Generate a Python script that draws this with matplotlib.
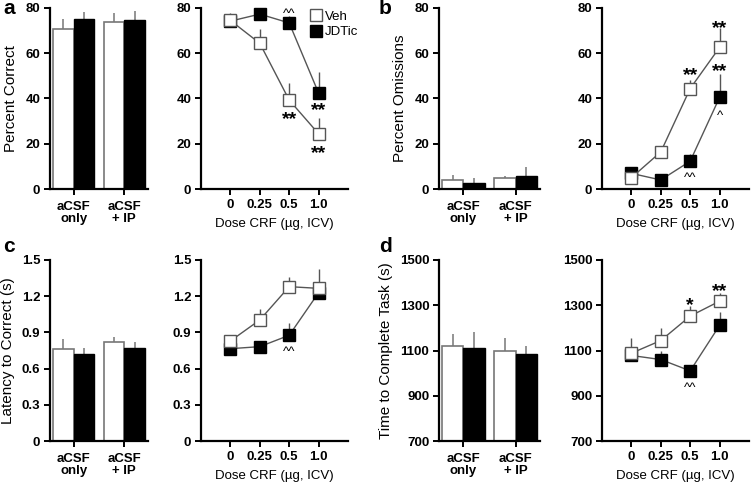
import numpy as np
import matplotlib.pyplot as plt
from matplotlib.lines import Line2D

plt.rcParams['font.family'] = ['Liberation Sans', 'DejaVu Sans']

# ---- data ----
bar_groups = ['aCSF\nonly', 'aCSF\n+ IP']
doses = ['0', '0.25', '0.5', '1.0']

# a: percent correct
correct_bar_veh = [70.7, 73.8]
correct_bar_veh_err = [4.4, 4.2]
correct_bar_jdtic = [75.2, 74.8]
correct_bar_jdtic_err = [3.0, 3.7]
correct_veh = [74.5, 64.4, 39.3, 24.4]
correct_veh_err = [3.2, 6.3, 7.5, 6.9]
correct_jdtic = [74.2, 77.3, 73.4, 42.4]
correct_jdtic_err = [3.0, 3.2, 3.0, 9.1]
correct_marks = [(2, 79.0, '^^'), (2, 33.5, '**'), (3, 37.5, '**'), (3, 18.7, '**')]

# b: percent omissions
omit_bar_veh = [3.8, 5.0]
omit_bar_veh_err = [2.4, 0.8]
omit_bar_jdtic = [2.8, 5.9]
omit_bar_jdtic_err = [1.9, 3.7]
omit_veh = [5.0, 16.4, 44.4, 62.6]
omit_veh_err = [1.5, 2.3, 3.9, 8.6]
omit_jdtic = [6.9, 4.0, 12.3, 40.5]
omit_jdtic_err = [1.8, 1.0, 3.2, 10.4]
omit_marks = [(2, 53, '**'), (3, 73.7, '**'), (3, 55, '**'), (3, 33.8, '^'), (2, 6.6, '^^')]

# c: latency to correct
lat_bar_veh = [0.765, 0.820]
lat_bar_veh_err = [0.078, 0.039]
lat_bar_jdtic = [0.721, 0.771]
lat_bar_jdtic_err = [0.047, 0.047]
lat_veh = [0.829, 1.003, 1.279, 1.265]
lat_veh_err = [0.049, 0.091, 0.083, 0.158]
lat_jdtic = [0.765, 0.782, 0.876, 1.229]
lat_jdtic_err = [0.03, 0.03, 0.099, 0.03]
lat_marks = [(2, 0.768, '^^')]

# d: time to complete task
time_bar_veh = [1120, 1096]
time_bar_veh_err = [54, 61]
time_bar_jdtic = [1111, 1084]
time_bar_jdtic_err = [70, 36]
time_veh = [1088, 1144, 1252, 1318]
time_veh_err = [68, 57, 44, 37]
time_jdtic = [1078, 1060, 1010, 1211]
time_jdtic_err = [20, 40, 20, 59]
time_marks = [(2, 1330, '*'), (3, 1389, '**'), (2, 950, '^^')]

GRAY = '#555555'
W, H = 752, 483
TICK_FS = 9.5


def style_axis(ax, yticks, ylim, xpad=3):
    for s in ['top', 'right']:
        ax.spines[s].set_visible(False)
    for s in ['left', 'bottom']:
        ax.spines[s].set_linewidth(1.6)
    ax.set_ylim(*ylim)
    ax.set_yticks(yticks)
    ax.tick_params(width=1.4, length=4, labelsize=TICK_FS, pad=3)
    ax.tick_params(axis='x', pad=xpad)
    for lab in ax.get_xticklabels() + ax.get_yticklabels():
        lab.set_fontweight('bold')


def bar_panel(ax, veh, veh_err, jd, jd_err, yticks, ylim, ylabel, fmt):
    x = np.arange(len(bar_groups))
    w = 0.41
    base = ylim[0]
    ax.bar(x - w / 2, np.array(veh) - base, w, bottom=base, color='white',
           edgecolor='#777777', linewidth=1.2, zorder=2)
    ax.bar(x + w / 2, np.array(jd) - base, w, bottom=base, color='black',
           edgecolor='black', linewidth=1.0, zorder=2)
    ax.errorbar(x - w / 2, veh, yerr=[np.zeros(len(veh)), veh_err], fmt='none',
                ecolor='#777777', elinewidth=1.1, capsize=0, zorder=1)
    ax.errorbar(x + w / 2, jd, yerr=[np.zeros(len(jd)), jd_err], fmt='none',
                ecolor='#777777', elinewidth=1.1, capsize=0, zorder=1)
    ax.set_xlim(-0.47, 1.47)
    ax.set_xticks(x)
    ax.set_xticklabels(bar_groups, linespacing=0.95)
    ax.set_yticklabels([fmt(v) for v in yticks])
    ax.set_ylabel(ylabel, fontsize=11, labelpad=5)
    style_axis(ax, yticks, ylim, xpad=5)


def mark_text(ax, xi, yi, txt):
    # place the glyphs so that their visual middle sits at yi
    if '*' in txt:
        fs, up = 14, 0.58
        weight = 'bold'
    else:
        fs, up = 9.5, 0.52
        weight = 'normal'
    ax.annotate(txt, (xi, yi), xytext=(0, -up * fs), textcoords='offset points',
                ha='center', va='baseline', fontsize=fs, fontweight=weight,
                zorder=5, annotation_clip=False)


def line_panel(ax, veh, veh_err, jd, jd_err, marks, yticks, ylim, fmt):
    x = np.arange(len(doses))
    ax.errorbar(x, jd, yerr=[np.zeros(len(jd)), jd_err], fmt='none',
                ecolor=GRAY, elinewidth=1.0, capsize=0, zorder=1)
    ax.plot(x, jd, color=GRAY, lw=1.0, marker='s', ms=8, mfc='black',
            mec='black', zorder=2, clip_on=False)
    ax.errorbar(x, veh, yerr=[np.zeros(len(veh)), veh_err], fmt='none',
                ecolor=GRAY, elinewidth=1.0, capsize=0, zorder=3)
    ax.plot(x, veh, color=GRAY, lw=1.0, marker='s', ms=8, mfc='white',
            mec=GRAY, mew=1.0, zorder=4, clip_on=False)
    for xi, yi, txt in marks:
        mark_text(ax, xi, yi, txt)
    ax.set_xlim(-1, 4)
    ax.set_xticks(x)
    ax.set_xticklabels(doses)
    ax.set_yticklabels([fmt(v) for v in yticks])
    ax.set_xlabel('Dose CRF (\u00b5g, ICV)', fontsize=9.5, labelpad=5)
    style_axis(ax, yticks, ylim)


fig = plt.figure(figsize=(W / 100, H / 100), dpi=100)


def px_axes(x0, x1, y0, y1):
    return fig.add_axes([x0 / W, 1 - y1 / H, (x1 - x0) / W, (y1 - y0) / H])


rows = [(8, 189), (260, 441)]
letter_y = [8, 247]
bar_cols = [(50, 148), (439, 540)]
line_cols = [(201, 348), (602, 749)]

int_fmt = lambda v: f'{v:g}'
lat_fmt = lambda v: '0' if v == 0 else f'{v:.1f}'

panels = [
    ('a', 0, 0, correct_bar_veh, correct_bar_veh_err, correct_bar_jdtic, correct_bar_jdtic_err,
     correct_veh, correct_veh_err, correct_jdtic, correct_jdtic_err, correct_marks,
     [0, 20, 40, 60, 80], (0, 80), 'Percent Correct', int_fmt),
    ('b', 0, 1, omit_bar_veh, omit_bar_veh_err, omit_bar_jdtic, omit_bar_jdtic_err,
     omit_veh, omit_veh_err, omit_jdtic, omit_jdtic_err, omit_marks,
     [0, 20, 40, 60, 80], (0, 80), 'Percent Omissions', int_fmt),
    ('c', 1, 0, lat_bar_veh, lat_bar_veh_err, lat_bar_jdtic, lat_bar_jdtic_err,
     lat_veh, lat_veh_err, lat_jdtic, lat_jdtic_err, lat_marks,
     [0, 0.3, 0.6, 0.9, 1.2, 1.5], (0, 1.5), 'Latency to Correct (s)', lat_fmt),
    ('d', 1, 1, time_bar_veh, time_bar_veh_err, time_bar_jdtic, time_bar_jdtic_err,
     time_veh, time_veh_err, time_jdtic, time_jdtic_err, time_marks,
     [700, 900, 1100, 1300, 1500], (700, 1500), 'Time to Complete Task (s)', int_fmt),
]

for (letter, r, c, bv, bve, bj, bje, lv, lve, lj, lje, marks,
     yticks, ylim, ylabel, fmt) in panels:
    y0, y1 = rows[r]
    axb = px_axes(bar_cols[c][0], bar_cols[c][1], y0, y1)
    bar_panel(axb, bv, bve, bj, bje, yticks, ylim, ylabel, fmt)
    axl = px_axes(line_cols[c][0], line_cols[c][1], y0, y1)
    line_panel(axl, lv, lve, lj, lje, marks, yticks, ylim, fmt)
    lx = 3 if c == 0 else 379
    fig.text(lx / W, 1 - letter_y[r] / H, letter, fontsize=15, fontweight='bold',
             ha='left', va='center')
    if letter == 'a':
        handles = [Line2D([], [], ls='none', marker='s', ms=8, mfc='white', mec=GRAY),
                   Line2D([], [], ls='none', marker='s', ms=8, mfc='black', mec='black')]
        axl.legend(handles, ['Veh', 'JDTic'], loc='upper right', frameon=False,
                   bbox_to_anchor=(1.07, 0.985), fontsize=9.5, handletextpad=0.25,
                   labelspacing=0.25, handlelength=0.9, borderaxespad=0,
                   borderpad=0)

fig.savefig('out.png', dpi=100)
